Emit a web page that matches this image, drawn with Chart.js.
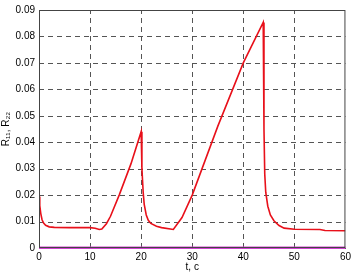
<!DOCTYPE html>
<html>
<head>
<meta charset="utf-8">
<script src="https://cdn.jsdelivr.net/npm/chart.js@4"></script>
<style>
  html, body { margin: 0; padding: 0; background: #fff; }
  #wrap { width: 354px; height: 273px; }
</style>
</head>
<body>
<div id="wrap"><canvas id="rChart" width="354" height="273"></canvas></div>
<script>
// R11 curve (t in seconds, value)
const r11T = [0, 0.15, 0.35, 0.6, 0.9, 1.3, 2, 3, 6, 10, 11, 11.8, 12.3, 13.2, 14, 15.7, 18, 20,
  20.15, 20.4, 20.6, 21, 21.4, 21.9, 23, 24, 26.3, 28, 30, 35, 40, 43.9,
  44.05, 44.2, 44.4, 44.8, 45.3, 46, 47, 48, 50, 55, 56, 60];
const r11V = [0.0195, 0.0160, 0.0130, 0.0107, 0.0094, 0.0086, 0.0080, 0.0078, 0.0077, 0.0077, 0.0075, 0.0070, 0.0072, 0.0092, 0.0120, 0.0200, 0.0318, 0.0440,
  0.0300, 0.0210, 0.0165, 0.0125, 0.0105, 0.0093, 0.0082, 0.0077, 0.0070, 0.0115, 0.0200, 0.0460, 0.0700, 0.0853,
  0.0450, 0.0280, 0.0210, 0.0158, 0.0125, 0.0103, 0.0085, 0.0075, 0.0071, 0.0070, 0.0066, 0.0065];
// R22 curve
const r22T = [0, 60];
const r22V = [0.0001, 0.0001];

const xTicks = [0, 10, 20, 30, 40, 50, 60];
const yTicks = [0, 0.01, 0.02, 0.03, 0.04, 0.05, 0.06, 0.07, 0.08, 0.09];

const toPts = (ts, vs) => ts.map((t, i) => ({ x: t, y: vs[i] }));

// dashed grid + box drawn from the chart scales
const gridBoxPlugin = {
  id: 'gridBox',
  beforeDatasetsDraw(chart) {
    const { ctx, chartArea: a, scales } = chart;
    ctx.save();
    ctx.strokeStyle = '#555';
    ctx.lineWidth = 1;
    ctx.setLineDash([5, 4]);
    xTicks.forEach(v => {
      if (v === 0 || v === 60) return;
      const px = Math.round(scales.x.getPixelForValue(v)) + 0.5;
      ctx.beginPath(); ctx.moveTo(px, a.bottom); ctx.lineTo(px, a.top); ctx.stroke();
    });
    yTicks.forEach(v => {
      if (v === 0 || v === 0.09) return;
      const py = Math.round(scales.y.getPixelForValue(v)) + 0.5;
      ctx.beginPath(); ctx.moveTo(a.left, py); ctx.lineTo(a.right, py); ctx.stroke();
    });
    ctx.restore();
  },
  afterDraw(chart) {
    const { ctx, chartArea: a } = chart;
    ctx.save();
    ctx.strokeStyle = '#444';
    ctx.lineWidth = 1;
    ctx.strokeRect(a.left + 0.5, a.top + 0.5, a.right - a.left - 1, a.bottom - a.top - 1);
    ctx.restore();
  }
};

Chart.defaults.font.family = 'Arial, "Liberation Sans", sans-serif';
Chart.defaults.font.size = 10;
Chart.defaults.color = '#000';

const ctx = document.getElementById('rChart').getContext('2d');
new Chart(ctx, {
  type: 'line',
  data: {
    datasets: [
      {
        label: 'R11',
        data: toPts(r11T, r11V),
        borderColor: '#e8101a',
        borderWidth: 1.6,
        pointRadius: 0,
        tension: 0
      },
      {
        label: 'R22',
        data: toPts(r22T, r22V),
        borderColor: '#d040d0',
        borderWidth: 2.5,
        pointRadius: 0,
        tension: 0,
        clip: false
      }
    ]
  },
  plugins: [gridBoxPlugin],
  options: {
    responsive: false,
    animation: false,
    layout: { padding: { left: 0, right: 5, top: 4, bottom: 0 } },
    plugins: { legend: { display: false }, tooltip: { enabled: false } },
    scales: {
      x: {
        type: 'linear',
        min: 0, max: 60,
        afterBuildTicks: s => { s.ticks = xTicks.map(v => ({ value: v })); },
        afterFit: s => { s.height = 25; },
        grid: { color: 'rgba(0,0,0,0)', drawTicks: false },
        border: { display: true, color: '#444' },
        ticks: { padding: 3, maxRotation: 0, font: { size: 10 } },
        title: { display: true, text: 't, c', padding: { top: 0, bottom: 0 }, font: { size: 10 } }
      },
      y: {
        min: 0, max: 0.09,
        afterBuildTicks: s => { s.ticks = yTicks.map(v => ({ value: v })); },
        afterFit: s => { s.width = 39; },
        grid: { color: 'rgba(0,0,0,0)', drawTicks: false },
        border: { display: true, color: '#444' },
        ticks: {
          padding: 4,
          font: { size: 10 },
          callback: v => v === 0 ? '0' : v.toFixed(2)
        },
        title: { display: true, text: 'R\u2081\u2081, R\u2082\u2082', padding: { top: 0, bottom: 2 }, font: { size: 10 } }
      }
    }
  }
});
</script>
</body>
</html>
